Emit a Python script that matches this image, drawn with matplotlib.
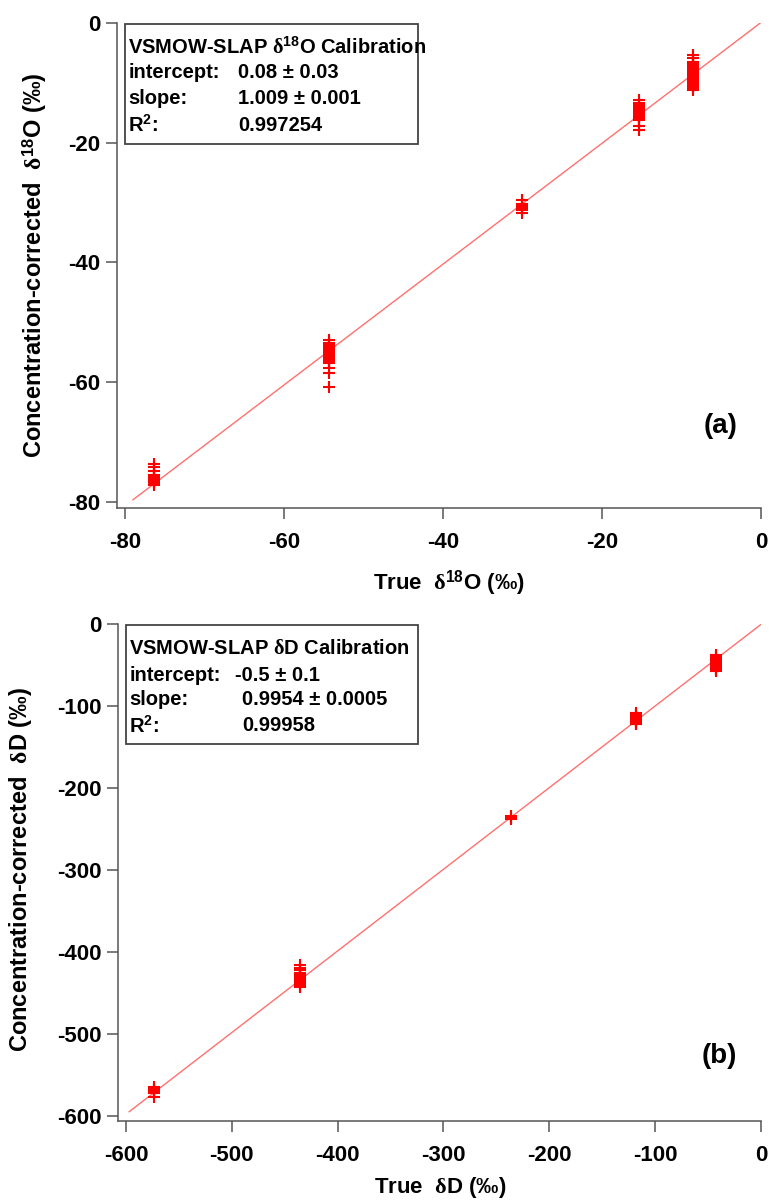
import matplotlib
matplotlib.use("Agg")
import matplotlib.pyplot as plt
from matplotlib.patches import Rectangle

plt.rcParams['font.family'] = ['Liberation Sans', 'DejaVu Sans']
plt.rcParams['font.weight'] = 'bold'
plt.rcParams['axes.unicode_minus'] = False
plt.rcParams['mathtext.fontset'] = 'custom'
plt.rcParams['mathtext.rm'] = 'Liberation Serif'
plt.rcParams['mathtext.it'] = 'Liberation Serif'
plt.rcParams['mathtext.bf'] = 'Liberation Sans:bold'

# ---- d18O data (true value -> measured values) ----
o18_true = [-76.3, -54.3, -30.0, -15.35, -8.55]
o18_meas = [
    [-73.6, -74.1, -74.8, -75.5, -75.7, -75.9, -76.0, -76.1, -76.2, -76.3,
     -76.4, -76.5, -76.6, -76.7, -76.8, -77.1],
    [-52.9, -53.4, -53.6, -53.8, -54.0, -54.2, -54.4, -54.6, -54.8, -55.0,
     -55.2, -55.4, -55.6, -55.8, -56.0, -56.2, -56.4, -56.6, -56.8, -57.6,
     -58.4, -60.8],
    [-29.6, -30.2, -30.5, -30.9, -31.3, -31.7],
    [-12.85, -13.4, -13.7, -13.9, -14.1, -14.3, -14.5, -14.7, -14.9, -15.1,
     -15.3, -15.5, -15.7, -15.9, -16.1, -16.2, -17.2, -17.9],
    [-5.3, -5.8, -6.5, -6.7, -6.9, -7.1, -7.3, -7.5, -7.7, -7.9, -8.1, -8.3,
     -8.5, -8.7, -8.9, -9.1, -9.3, -9.5, -9.7, -9.9, -10.1, -10.3, -10.5,
     -10.7, -10.9, -11.2],
]
o18_fit = (0.08, 1.009)
o18_fit_range = [-79, 0]

# ---- dD data ----
dd_true = [-573.5, -435.5, -236.0, -118.0, -42.4]
dd_meas = [
    [-565, -566.5, -568, -569.5, -571, -572, -577],
    [-416, -419, -422, -425, -427, -429, -431, -433, -435, -437, -439, -441, -443],
    [-234.5, -236, -237.5],
    [-108, -109.5, -111, -112.5, -114, -115.5, -117, -118.5, -120, -121.5, -122.5],
    [-38, -39.5, -41, -42.5, -44, -45.5, -47, -48.5, -50, -51.5, -53, -54.5,
     -56, -57.5],
]
dd_fit = (-0.5, 0.9954)
dd_fit_range = [-597, 0]

fig = plt.figure(figsize=(7.72, 12.03), dpi=100)
ax1 = fig.add_axes([0.1619, 0.5827, 0.8238, 0.3982])
ax2 = fig.add_axes([0.1632, 0.0723, 0.8225, 0.4090])

spine_col = '#555555'


def style_axes(ax, lim, ticks, off_left, off_bottom, lbound, bbound):
    ax.set_xlim(lim)
    ax.set_ylim(lim)
    ax.set_xticks(ticks)
    ax.set_yticks(ticks)
    for s in ['top', 'right']:
        ax.spines[s].set_visible(False)
    ax.spines['left'].set_position(('outward', off_left))
    ax.spines['bottom'].set_position(('outward', off_bottom))
    ax.spines['left'].set_bounds(lbound, lim[1])
    ax.spines['bottom'].set_bounds(bbound, lim[1])
    for s in ['left', 'bottom']:
        ax.spines[s].set_color(spine_col)
        ax.spines[s].set_linewidth(1.1)
    ax.tick_params(direction='out', length=8, width=1.1, color=spine_col,
                   labelsize=16)
    ax.tick_params(axis='x', pad=9)
    ax.tick_params(axis='y', pad=4)


def draw_group(ax, xs, groups, fit, fit_range):
    for x, ys in zip(xs, groups):
        ax.plot([x] * len(ys), ys, linestyle='none', marker='+', color='red',
                markersize=8.5, markeredgewidth=1.5)
    b, m = fit
    ax.plot(fit_range, [b + m * fit_range[0], b + m * fit_range[1]],
            color='#ff7070', lw=1.0, zorder=1)


def draw_box(ax, box, lines, title, vals, val_x):
    x0, y0, x1, y1 = box
    ax.add_patch(Rectangle((x0, y0), x1 - x0, y1 - y0, transform=ax.transAxes,
                           fill=False, edgecolor='#444444', lw=1.3,
                           clip_on=False))
    ax.text(0.005, lines[0], title, transform=ax.transAxes, fontsize=14.5,
            ha='left', va='center')
    labels = ['intercept:', 'slope:', r'R$^{\mathbf{2}}$:']
    for lab, v, y, vx in zip(labels, vals, lines[1:], val_x):
        ax.text(0.005, y, lab, transform=ax.transAxes, fontsize=14.5,
                ha='left', va='center')
        ax.text(vx, y, v, transform=ax.transAxes, fontsize=14.5,
                ha='left', va='center')


# ---- panel (a) ----
style_axes(ax1, (-80, 0), [-80, -60, -40, -20, 0], 5.8, 4.3, -81, -81)
draw_group(ax1, o18_true, o18_meas, o18_fit, o18_fit_range)
draw_box(ax1, (0.0, 0.747, 0.461, 0.998), [0.950, 0.896, 0.843, 0.787],
         r'VSMOW-SLAP $\mathrm{\delta}^{\mathbf{18}}$O Calibration',
         ['0.08 ± 0.03', '1.009 ± 0.001', '0.997254'], [0.178, 0.178, 0.178])
ax1.text(0.937, 0.159, '(a)', transform=ax1.transAxes, fontsize=20,
         ha='center', va='center')
ax1.text(0.509, -0.169, r'True  $\mathrm{\delta}^{\mathbf{18}}$O (‰)',
         transform=ax1.transAxes, fontsize=16, ha='center', va='center')
ax1.text(-0.1415, 0.495, r'Concentration-corrected  $\mathrm{\delta}^{\mathbf{18}}$O (‰)',
         transform=ax1.transAxes, fontsize=17, ha='center', va='center',
         rotation=90)

# ---- panel (b) ----
style_axes(ax2, (-600, 0), [-600, -500, -400, -300, -200, -100, 0], 5.8, 3.6,
           -606, -607.6)
draw_group(ax2, dd_true, dd_meas, dd_fit, dd_fit_range)
draw_box(ax2, (0.0, 0.756, 0.46, 0.998), [0.951, 0.896, 0.846, 0.793],
         r'VSMOW-SLAP $\mathrm{\delta}$D Calibration',
         ['-0.5 ± 0.1', '0.9954 ± 0.0005', '0.99958'], [0.172, 0.183, 0.183])
ax2.text(0.935, 0.122, '(b)', transform=ax2.transAxes, fontsize=20,
         ha='center', va='center')
ax2.text(0.494, -0.146, r'True  $\mathrm{\delta}$D (‰)',
         transform=ax2.transAxes, fontsize=16, ha='center', va='center')
ax2.text(-0.166, 0.5, r'Concentration-corrected  $\mathrm{\delta}$D (‰)',
         transform=ax2.transAxes, fontsize=17, ha='center', va='center',
         rotation=90)

fig.savefig('out.png', dpi=100)
